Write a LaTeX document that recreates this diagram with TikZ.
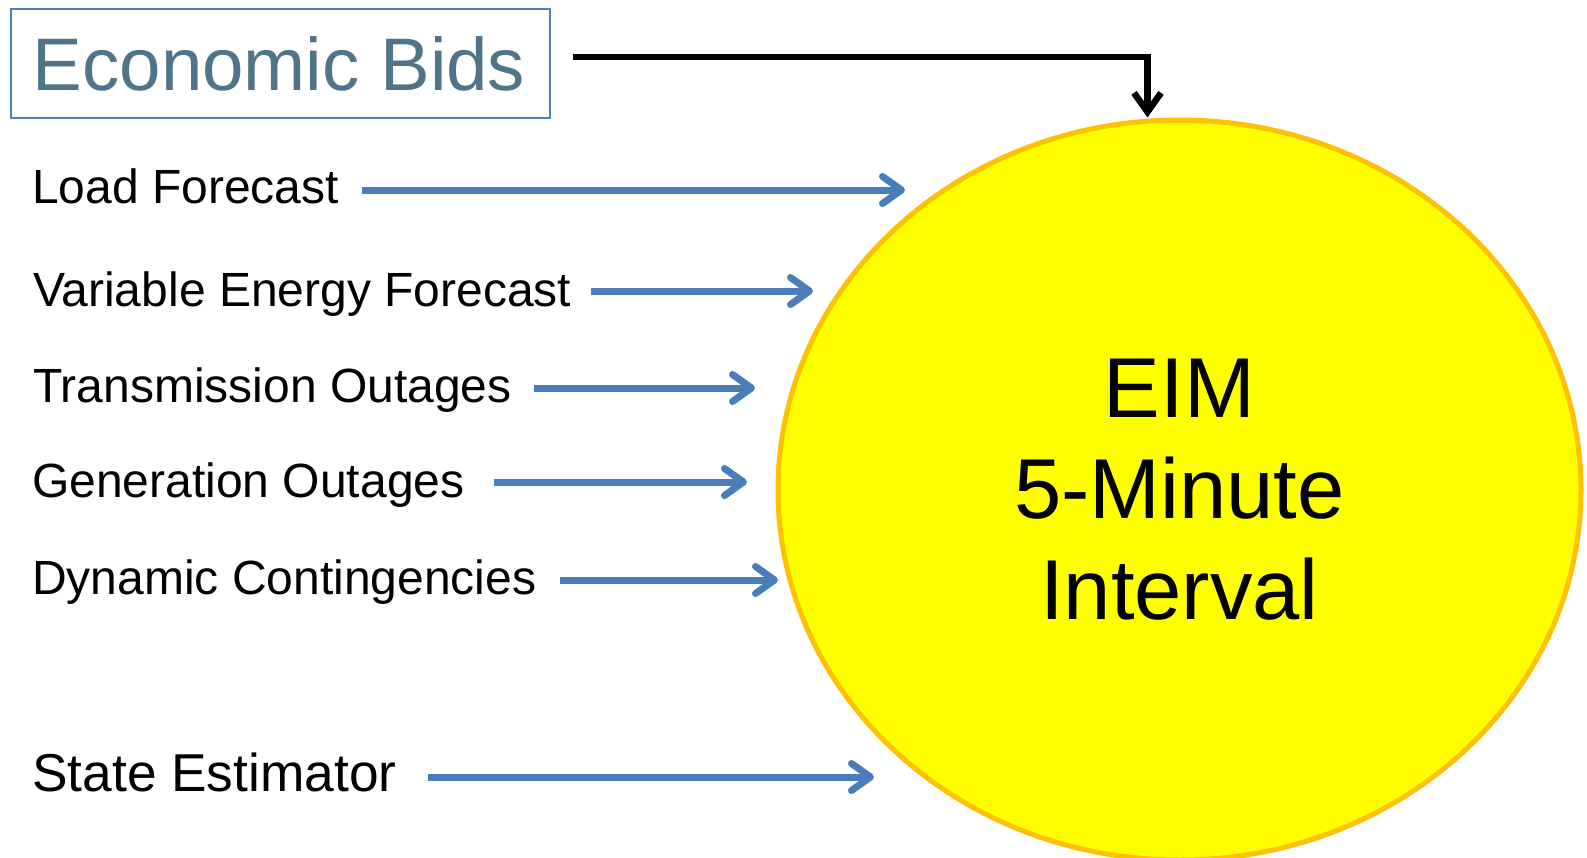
\documentclass[tikz,border=0pt]{standalone}
\usepackage{fontspec}
\setmainfont{Liberation Sans}
\usetikzlibrary{arrows.meta,shapes.geometric}

\definecolor{feedblue}{RGB}{74,126,187}
\definecolor{bidtext}{RGB}{80,116,138}
\definecolor{bidframe}{RGB}{79,129,189}
\definecolor{eimfill}{RGB}{255,255,0}
\definecolor{eimedge}{RGB}{255,192,0}

\begin{document}
\begin{tikzpicture}[
  x=1pt,y=-1pt,
  lbl/.style={anchor=base west,inner sep=0pt,font=\fontsize{48}{58}\selectfont},
  feed/.style={-{Straight Barb[length=19pt,width=27pt,round]},line width=7pt,feedblue},
  bid/.style={-{Straight Barb[length=19pt,width=27pt]},line width=6.5pt,black},
]
\useasboundingbox (0,0) rectangle (1587,857);

% market run (right)
\node[ellipse,draw=eimedge,fill=eimfill,line width=5pt,minimum width=803pt,minimum height=740pt,
  inner sep=0pt,align=center,font=\fontsize{85}{101}\selectfont] (eim) at (1179.5,490) {EIM\\5-Minute\\Interval};

% bids box (top)
\node[draw=bidframe,line width=2pt,text=bidtext,minimum width=539pt,minimum height=109pt,
  inner sep=0pt,font=\fontsize{74.5}{89}\selectfont] (bids) at (280.5,63.5) {\hspace*{-3pt}Economic Bids};
\draw[bid] ([xshift=22pt,yshift=6.5pt]bids.east) -| ([xshift=-32pt]eim.north);

% inputs (left)
\node[lbl] (load) at (32,203) {Load Forecast};
\node[lbl] (vef) at (33,306.5) {Variable Energy Forecast};
\node[lbl] (trans) at (33,402.5) {Transmission Outages};
\node[lbl] (gen) at (32,497.5) {Generation Outages};
\node[lbl] (dyn) at (32,594) {Dynamic Contingencies};
\node[lbl,font=\fontsize{53.3}{64}\selectfont] (se) at (32,791) {State Estimator};

\coordinate (loadtip) at (905,190);
\coordinate (veftip) at (813,291);
\coordinate (transtip) at (755,388);
\coordinate (gentip) at (747,482);
\coordinate (dyntip) at (778,580);
\coordinate (setip) at (874,777);

\draw[feed,shorten <=23pt] (load.east |- loadtip) -- (loadtip);
\draw[feed,shorten <=20pt] (vef.east |- veftip) -- (veftip);
\draw[feed,shorten <=22pt] (trans.east |- transtip) -- (transtip);
\draw[feed,shorten <=29pt] (gen.east |- gentip) -- (gentip);
\draw[feed,shorten <=23pt] (dyn.east |- dyntip) -- (dyntip);
\draw[feed,shorten <=31pt] (se.east |- setip) -- (setip);
\end{tikzpicture}
\end{document}
